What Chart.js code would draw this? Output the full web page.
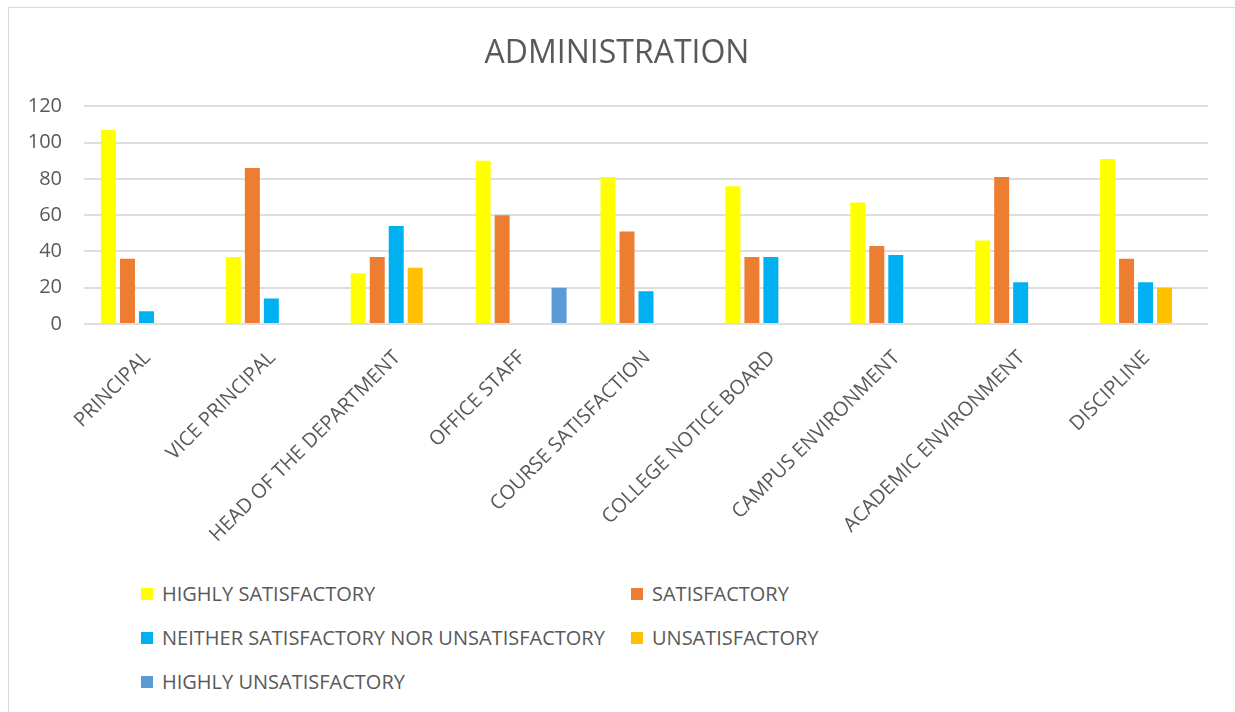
<!DOCTYPE html>
<html>
<head>
<meta charset="utf-8">
<title>ADMINISTRATION</title>
<script src="https://cdn.jsdelivr.net/npm/chart.js@4.4.1/dist/chart.umd.min.js"></script>
<style>
  html, body { margin: 0; padding: 0; background: #fff; }
  .chart-card { position: relative; width: 1235px; height: 712px; overflow: hidden; font-family: 'Open Sans', sans-serif; }
  .chart-frame { position: absolute; left: 8px; top: 7px; right: -2px; bottom: -2px; border-left: 1px solid #d9d9d9; border-top: 1px solid #d9d9d9; }
  #adminChart { position: absolute; left: 0; top: 0; }
  #adminLegend { position: absolute; left: 141px; top: 572px; display: grid; grid-template-columns: 490px 300px; }
  .legend-item { display: flex; align-items: center; height: 44px; line-height: 44px; font-size: 20px; color: #595959; white-space: nowrap; }
  .legend-box { width: 12px; height: 12px; margin-right: 9px; flex: none; }
</style>
</head>
<body>
<div class="chart-card">
  <div class="chart-frame"></div>
  <canvas id="adminChart" width="1235" height="570"></canvas>
  <div id="adminLegend"></div>
</div>

<script>
const categories = [
  'PRINCIPAL', 'VICE PRINCIPAL', 'HEAD OF THE DEPARTMENT', 'OFFICE STAFF',
  'COURSE SATISFACTION', 'COLLEGE NOTICE BOARD', 'CAMPUS ENVIRONMENT',
  'ACADEMIC ENVIRONMENT', 'DISCIPLINE'
];

const seriesNames = [
  'HIGHLY SATISFACTORY', 'SATISFACTORY', 'NEITHER SATISFACTORY NOR UNSATISFACTORY',
  'UNSATISFACTORY', 'HIGHLY UNSATISFACTORY'
];
const seriesColors = ['#FFFF00', '#ED7D31', '#00B0F0', '#FFC000', '#5B9BD5'];

const highlySatisfactory = [107, 37, 28, 90, 81, 76, 67, 46, 91];
const satisfactory       = [36, 86, 37, 60, 51, 37, 43, 81, 36];
const neither            = [7, 14, 54, null, 18, 37, 38, 23, 23];
const unsatisfactory     = [null, null, 31, null, null, null, null, null, 20];
const highlyUnsatisfactory = [null, null, null, 20, null, null, null, null, null];

const yTicks = [0, 20, 40, 60, 80, 100, 120];

const textColor = '#595959';
const gridColor = '#dedede';
const fontFamily = "'Open Sans', sans-serif";

function buildDatasets() {
  const values = [highlySatisfactory, satisfactory, neither, unsatisfactory, highlyUnsatisfactory];
  return seriesNames.map((name, i) => ({
    label: name,
    data: values[i],
    backgroundColor: seriesColors[i],
    borderWidth: 0,
    categoryPercentage: 0.76,
    barPercentage: 0.79
  }));
}

function drawChart() {
  const ctx = document.getElementById('adminChart').getContext('2d');

  window.adminChartInstance = new Chart(ctx, {
    type: 'bar',
    data: { labels: categories, datasets: buildDatasets() },
    options: {
      responsive: false,
      animation: false,
      layout: { padding: { left: 26, right: 27, top: 0, bottom: 0 } },
      plugins: {
        legend: { display: false },
        tooltip: { enabled: false },
        title: {
          display: true,
          text: 'ADMINISTRATION',
          color: textColor,
          font: { family: fontFamily, size: 32, weight: 'normal' },
          padding: { top: 35, bottom: 33 }
        }
      },
      scales: {
        x: {
          grid: { display: false },
          border: { display: false },
          ticks: {
            color: textColor,
            font: { family: fontFamily, size: 20 },
            minRotation: 45,
            maxRotation: 45,
            autoSkip: false,
            padding: 14,
            labelOffset: 1
          },
          afterFit: (scale) => { scale.height = 246; }
        },
        y: {
          min: yTicks[0],
          max: yTicks[yTicks.length - 1],
          afterBuildTicks: (scale) => { scale.ticks = yTicks.map(v => ({ value: v })); },
          grid: { color: gridColor, lineWidth: 2, drawTicks: false },
          border: { display: false },
          ticks: {
            color: textColor,
            font: { family: fontFamily, size: 20 },
            padding: 22
          },
          afterFit: (scale) => { scale.width = 58; }
        }
      }
    }
  });

  createLegend();
}

function createLegend() {
  const legendDiv = document.getElementById('adminLegend');
  if (!legendDiv) return;

  let html = '';
  seriesNames.forEach((name, i) => {
    html += `
      <div class="legend-item">
        <div class="legend-box" style="background-color: ${seriesColors[i]};"></div>
        <span>${name}</span>
      </div>`;
  });
  legendDiv.innerHTML = html;
}

document.fonts.load('20px "Open Sans"').then(drawChart, drawChart);
</script>
</body>
</html>
